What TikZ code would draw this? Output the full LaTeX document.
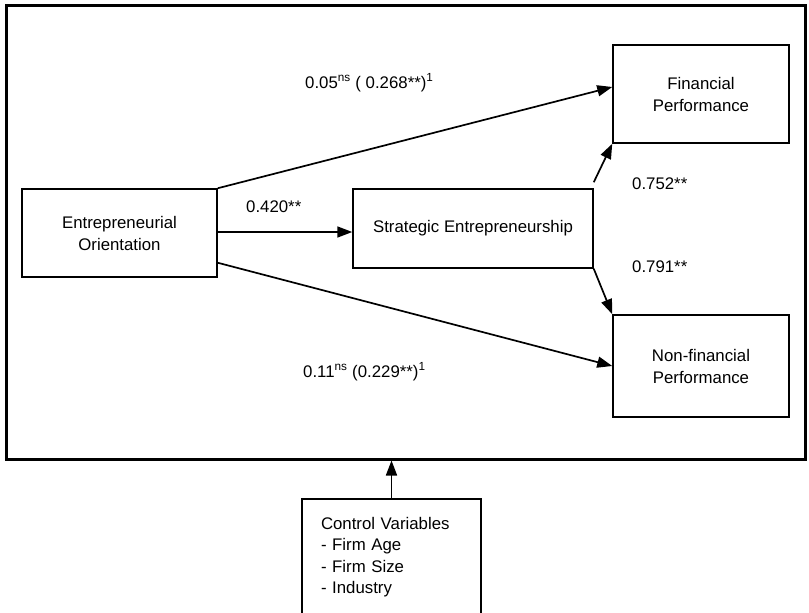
\documentclass[tikz,border=0pt]{standalone}
\usepackage{fontspec}
\setmainfont{Liberation Sans}
\usetikzlibrary{arrows.meta,calc}
\begin{document}
\begin{tikzpicture}[x=1pt,y=-1pt,
  every node/.style={font=\fontsize{16.8}{22}\selectfont},
  box/.style={draw, line width=1.5pt, align=center, inner sep=0pt},
  link/.style={line width=1.7pt, -{Triangle[length=15pt,width=11pt]}},
  lbl/.style={anchor=base west, inner sep=0pt}]
\useasboundingbox (0,0) rectangle (809,613);
\fill[white] (0,0) rectangle (809,613);

% outer frame around the structural model
\node[draw, line width=3pt, minimum width=799pt, minimum height=454pt, inner sep=0pt] (frame) at (405.5,232) {};

% constructs
\node[box, minimum width=195pt, minimum height=88pt] (eo) at (119.5,233) {Entrepreneurial\\Orientation};
\node[box, minimum width=240pt, minimum height=79pt] (se) at (473,228.5) {Strategic Entrepreneurship};
\node[box, minimum width=176pt, minimum height=98pt] (fp) at (701,94) {Financial\\Performance};
\node[box, minimum width=176pt, minimum height=102pt] (nfp) at (701,366) {Non-financial\\Performance};

% control variables
\node[draw, line width=1.5pt, align=left, text width=141pt, inner xsep=19pt, inner ysep=0pt,
      minimum height=116pt, font=\fontsize{16.8}{21.5}\selectfont] (ctrl) at (391.5,557)
  {Control Variables\\- Firm Age\\- Firm Size\\- Industry};

% paths
\coordinate (eoMid) at ($(eo.east)+(0,-1)$);
\coordinate (eoLow) at ($(eo.south east)+(0,-15)$);
\coordinate (seUp) at ($(se.north east)+(0,-6)$);
\draw[link] (eo.north east) -- ($(fp.west)+(0,-7)$);
\draw[link] (eoMid) -- (eoMid -| se.west);
\draw[link] (eoLow) -- (nfp.west);
\draw[link] (seUp) -- (fp.south west);
\draw[link] (se.south east) -- (nfp.north west);
\draw[link] (ctrl.north) -- (ctrl.north |- frame.south);

% path coefficients
\node[lbl] (c1) at (305,88) {0.05\textsuperscript{ns} ( 0.268**)\textsuperscript{1}};
\node[lbl] (c2) at (246,212) {0.420**};
\node[lbl] (c3) at (632,189) {0.752**};
\node[lbl] (c4) at (632,272) {0.791**};
\node[lbl] (c5) at (303,377) {0.11\textsuperscript{ns} (0.229**)\textsuperscript{1}};
\end{tikzpicture}
\end{document}
